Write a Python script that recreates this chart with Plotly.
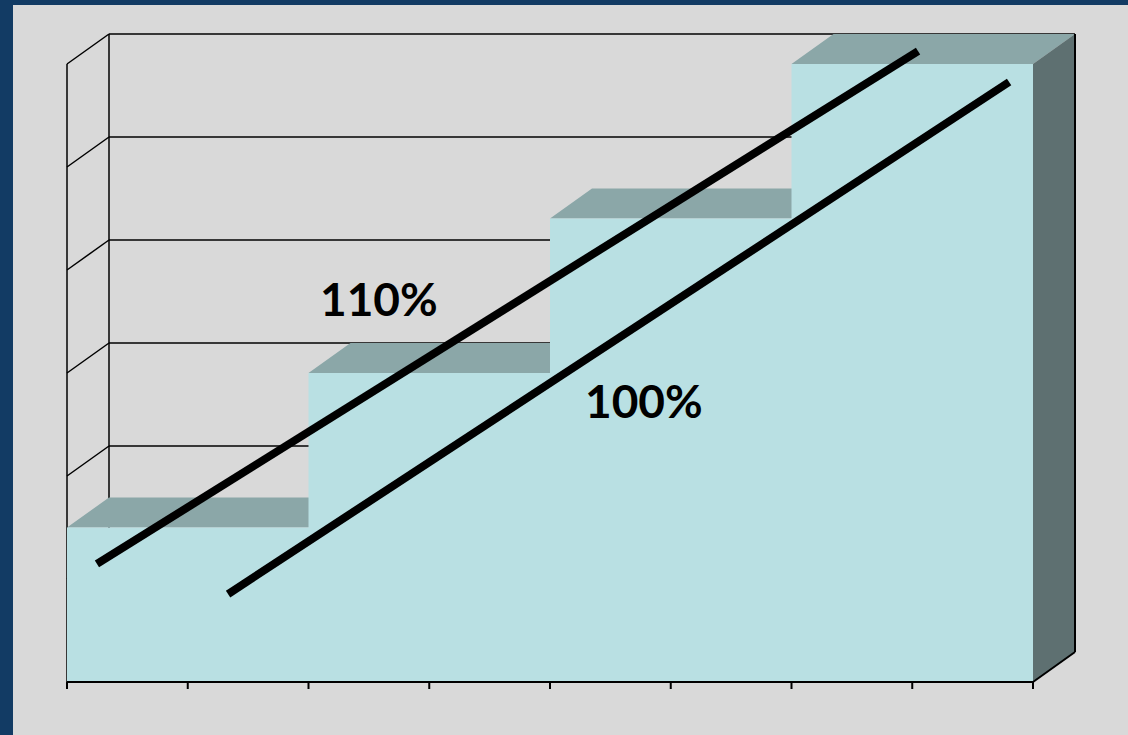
import plotly.graph_objects as go

# ---- data ----
categories = ["Step 1", "Step 2", "Step 3", "Step 4"]
values = [1.5, 3.0, 4.5, 6.0]
grid_values = [0, 1, 2, 3, 4, 5, 6]
tick_positions = [0, 0.5, 1, 1.5, 2, 2.5, 3, 3.5, 4]
line_110_x = [0.124, 3.524]
line_110_y = [1.146, 6.126]
line_100_x = [0.667, 3.901]
line_100_y = [0.854, 5.825]
label_110 = "110%"
label_100 = "100%"

# ---- style / geometry ----
W, H = 1128, 735
X0PX, XSCALE = 67, 241.5
Y0PX, YSCALE = 682, 103
DX = 42 / XSCALE
DY = 30 / YSCALE
TICKLEN = 7 / YSCALE
BG = "#d9d9d9"
BORDER = "#123b64"
FRONT = "#b9e0e3"
TOP = "#8ba7a8"
SIDE = "#5e7071"

n = len(values)
fig = go.Figure()


def seg_trace(xs, ys, width, color="black"):
    fig.add_trace(go.Scatter(x=xs, y=ys, mode="lines",
                             line=dict(color=color, width=width),
                             hoverinfo="skip", showlegend=False))


def poly_trace(xs, ys, color):
    fig.add_trace(go.Scatter(x=xs, y=ys, mode="lines", fill="toself",
                             fillcolor=color, line=dict(width=0, color=color),
                             hoverinfo="skip", showlegend=False))


top = max(grid_values)
# back wall gridlines + left wall
gx, gy = [], []
for v in grid_values:
    gx += [DX, n + DX, None]
    gy += [v + DY, v + DY, None]
    gx += [0, DX, None]
    gy += [v, v + DY, None]
gx += [DX, DX, None, 0, 0, None]
gy += [DY, top + DY, None, 0, top, None]
seg_trace(gx, gy, 1.5)

# top faces
tx, ty = [], []
for i, v in enumerate(values):
    tx += [i, i + 1, i + 1 + DX, i + DX, i, None]
    ty += [v, v, v + DY, v + DY, v, None]
poly_trace(tx, ty, TOP)

# front stepped face
fx, fy = [0], [0]
for i, v in enumerate(values):
    fx += [i, i + 1]
    fy += [v, v]
fx += [n, 0]
fy += [0, 0]
poly_trace(fx, fy, FRONT)

# side face of last step
vl = values[-1]
poly_trace([n, n, n + DX, n + DX, n], [0, vl, vl + DY, DY, 0], SIDE)

# right edge, floor edge, baseline, ticks
ex = [n + DX, n + DX, None, n, n + DX, None, 0, n, None]
ey = [DY, top + DY, None, 0, DY, None, 0, 0, None]
for t in tick_positions:
    ex += [t, t, None]
    ey += [0, -TICKLEN, None]
seg_trace(ex, ey, 2)

# trend lines
seg_trace(line_110_x, line_110_y, 8)
seg_trace(line_100_x, line_100_y, 8)

font = dict(family="Lato", size=46, color="black", weight="bold")
fig.add_annotation(x=(379 - X0PX) / XSCALE, y=(Y0PX - 298) / YSCALE, text=label_110,
                   showarrow=False, font=font, xanchor="center", yanchor="middle")
fig.add_annotation(x=(644 - X0PX) / XSCALE, y=(Y0PX - 400) / YSCALE, text=label_100,
                   showarrow=False, font=font, xanchor="center", yanchor="middle")

fig.add_shape(type="rect", xref="paper", yref="paper",
              x0=13 / W, x1=1, y0=0, y1=1 - 5 / H,
              fillcolor=BG, line=dict(width=0), layer="below")

fig.update_layout(
    width=W, height=H, margin=dict(l=0, r=0, t=0, b=0),
    paper_bgcolor=BORDER, plot_bgcolor="rgba(0,0,0,0)",
    showlegend=False, hovermode=False,
    xaxis=dict(range=[-X0PX / XSCALE, (W - X0PX) / XSCALE], visible=False, fixedrange=True),
    yaxis=dict(range=[-(H - Y0PX) / YSCALE, Y0PX / YSCALE], visible=False, fixedrange=True),
)

fig.write_html("out.html", config={"displayModeBar": False})
